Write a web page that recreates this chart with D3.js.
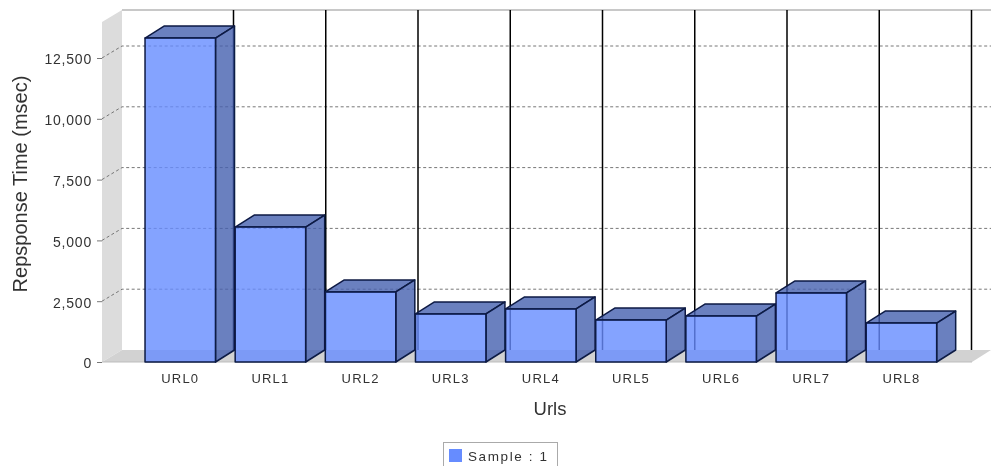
<!DOCTYPE html>
<html>
<head>
<meta charset="utf-8">
<script src="https://cdn.jsdelivr.net/npm/d3@7"></script>
<style>
  html, body { margin: 0; padding: 0; background: #fff; overflow: hidden; }
  text { font-family: "Liberation Sans", Arial, sans-serif; fill: #333; }
</style>
</head>
<body>
<div id="chart"></div>
<script>
const categories = ['URL0', 'URL1', 'URL2', 'URL3', 'URL4', 'URL5', 'URL6', 'URL7', 'URL8'];
const responseTimes = [13320, 5550, 2880, 1975, 2180, 1725, 1890, 2840, 1600];
const yTicks = [0, 2500, 5000, 7500, 10000, 12500];
const dividerSlots = [0, 1, 2, 3, 4, 5, 6, 7, 8];

const width = 991;
const height = 466;
const depthX = 19;
const depthY = 12;

const svg = d3.select('#chart').append('svg')
  .attr('width', width)
  .attr('height', height)
  .style('display', 'block');

const soft = svg.append('defs').append('filter')
  .attr('id', 'soft')
  .attr('x', '-5%').attr('y', '-5%').attr('width', '110%').attr('height', '110%');
soft.append('feGaussianBlur').attr('stdDeviation', 0.45);

const g = svg.append('g').attr('filter', 'url(#soft)');

const y = d3.scaleLinear().domain([0, 12500]).range([362, 58]);
const x = d3.scaleBand().domain(categories).range([135.2, 946.5])
  .paddingInner(0.218).paddingOuter(0.109);
const divider = d3.scaleLinear().domain([0, 8]).range([233.5, 971.5]);

const plotLeft = 102;
const plotRight = 972;
const plotTop = 22;

// walls and floor
g.append('path')
  .attr('fill', '#dcdcdc')
  .attr('d', `M${plotLeft},${plotTop}L${plotLeft + depthX + 1},${plotTop - depthY}V${y(0) - depthY}L${plotLeft},${y(0)}Z`);
g.append('path')
  .attr('fill', '#d2d2d2')
  .attr('d', `M${plotLeft},${y(0)}L${plotLeft + depthX + 1},${y(0) - depthY}H${plotRight + depthX}L${plotRight},${y(0)}Z`);
g.append('line')
  .attr('x1', plotLeft + depthX + 1).attr('x2', width)
  .attr('y1', plotTop - depthY).attr('y2', plotTop - depthY)
  .attr('stroke', '#c8c8c8').attr('stroke-width', 2);
g.append('line')
  .attr('x1', plotLeft).attr('x2', plotRight)
  .attr('y1', y(0)).attr('y2', y(0))
  .attr('stroke', '#bdbdbd').attr('stroke-width', 1);

// value grid, slanted across the wall and then flat along the back
g.append('g').selectAll('path')
  .data(yTicks.filter(d => d > 0))
  .enter()
  .append('path')
  .attr('fill', 'none')
  .attr('stroke', '#777')
  .attr('stroke-width', 1)
  .attr('stroke-dasharray', '3,2.5')
  .attr('d', d => `M${plotLeft},${y(d)}L${plotLeft + depthX + 1},${y(d) - depthY}H${width}`);

// black dividers behind the bars
g.append('g').selectAll('line')
  .data(dividerSlots)
  .enter()
  .append('line')
  .attr('x1', d => divider(d))
  .attr('x2', d => divider(d))
  .attr('y1', plotTop - depthY)
  .attr('y2', y(0) - depthY)
  .attr('stroke', '#000')
  .attr('stroke-width', 1.5);

// 3d bars
const bar = g.append('g').selectAll('g')
  .data(responseTimes)
  .enter()
  .append('g')
  .attr('fill-opacity', 0.8)
  .attr('stroke', '#0c1a44')
  .attr('stroke-width', 1.5)
  .attr('stroke-linejoin', 'round');

bar.append('path')
  .attr('fill', '#4660af')
  .attr('d', (d, i) => {
    const l = x(categories[i]);
    const t = y(d);
    return `M${l},${t}l${depthX},${-depthY}h${x.bandwidth()}l${-depthX},${depthY}Z`;
  });
bar.append('path')
  .attr('fill', '#4660af')
  .attr('d', (d, i) => {
    const r = x(categories[i]) + x.bandwidth();
    const t = y(d);
    return `M${r},${t}l${depthX},${-depthY}V${y(0) - depthY}L${r},${y(0)}Z`;
  });
bar.append('rect')
  .attr('fill', '#668cff')
  .attr('x', (d, i) => x(categories[i]))
  .attr('y', d => y(d))
  .attr('width', x.bandwidth())
  .attr('height', d => y(0) - y(d));

// axes
const yAxis = g.append('g')
  .attr('transform', `translate(${plotLeft},0)`)
  .call(d3.axisLeft(y).tickValues(yTicks).tickSize(5).tickPadding(5).tickFormat(d3.format(',')));
yAxis.select('.domain').remove();
yAxis.selectAll('line').attr('stroke', '#777');
yAxis.selectAll('text')
  .attr('font-size', 14)
  .attr('dy', '0.42em')
  .style('font-family', '"Liberation Sans", Arial, sans-serif')
  .style('fill', '#333')
  .style('letter-spacing', '0.8px');

const xAxis = g.append('g')
  .attr('transform', `translate(0,${y(0)})`)
  .call(d3.axisBottom(x).tickSize(0).tickPadding(12));
xAxis.select('.domain').remove();
xAxis.selectAll('text')
  .attr('font-size', 13)
  .style('font-family', '"Liberation Sans", Arial, sans-serif')
  .style('fill', '#333')
  .style('letter-spacing', '1.2px');

g.append('text')
  .attr('transform', 'translate(27,184) rotate(-90)')
  .attr('text-anchor', 'middle')
  .attr('font-size', 20)
  .text('Repsponse Time (msec)');

g.append('text')
  .attr('x', 550)
  .attr('y', 415)
  .attr('text-anchor', 'middle')
  .attr('font-size', 18.5)
  .text('Urls');

// legend, runs off the bottom edge like the source image
const legend = g.append('g');
legend.append('rect')
  .attr('x', 443.5).attr('y', 442.5)
  .attr('width', 114).attr('height', 30)
  .attr('fill', '#fff')
  .attr('stroke', '#aaa');
legend.append('rect')
  .attr('x', 449).attr('y', 449)
  .attr('width', 13).attr('height', 13)
  .attr('fill', '#668cff');
legend.append('text')
  .attr('x', 468).attr('y', 461)
  .attr('font-size', 13.5)
  .style('letter-spacing', '1.6px')
  .text('Sample : 1');
</script>
</body>
</html>
